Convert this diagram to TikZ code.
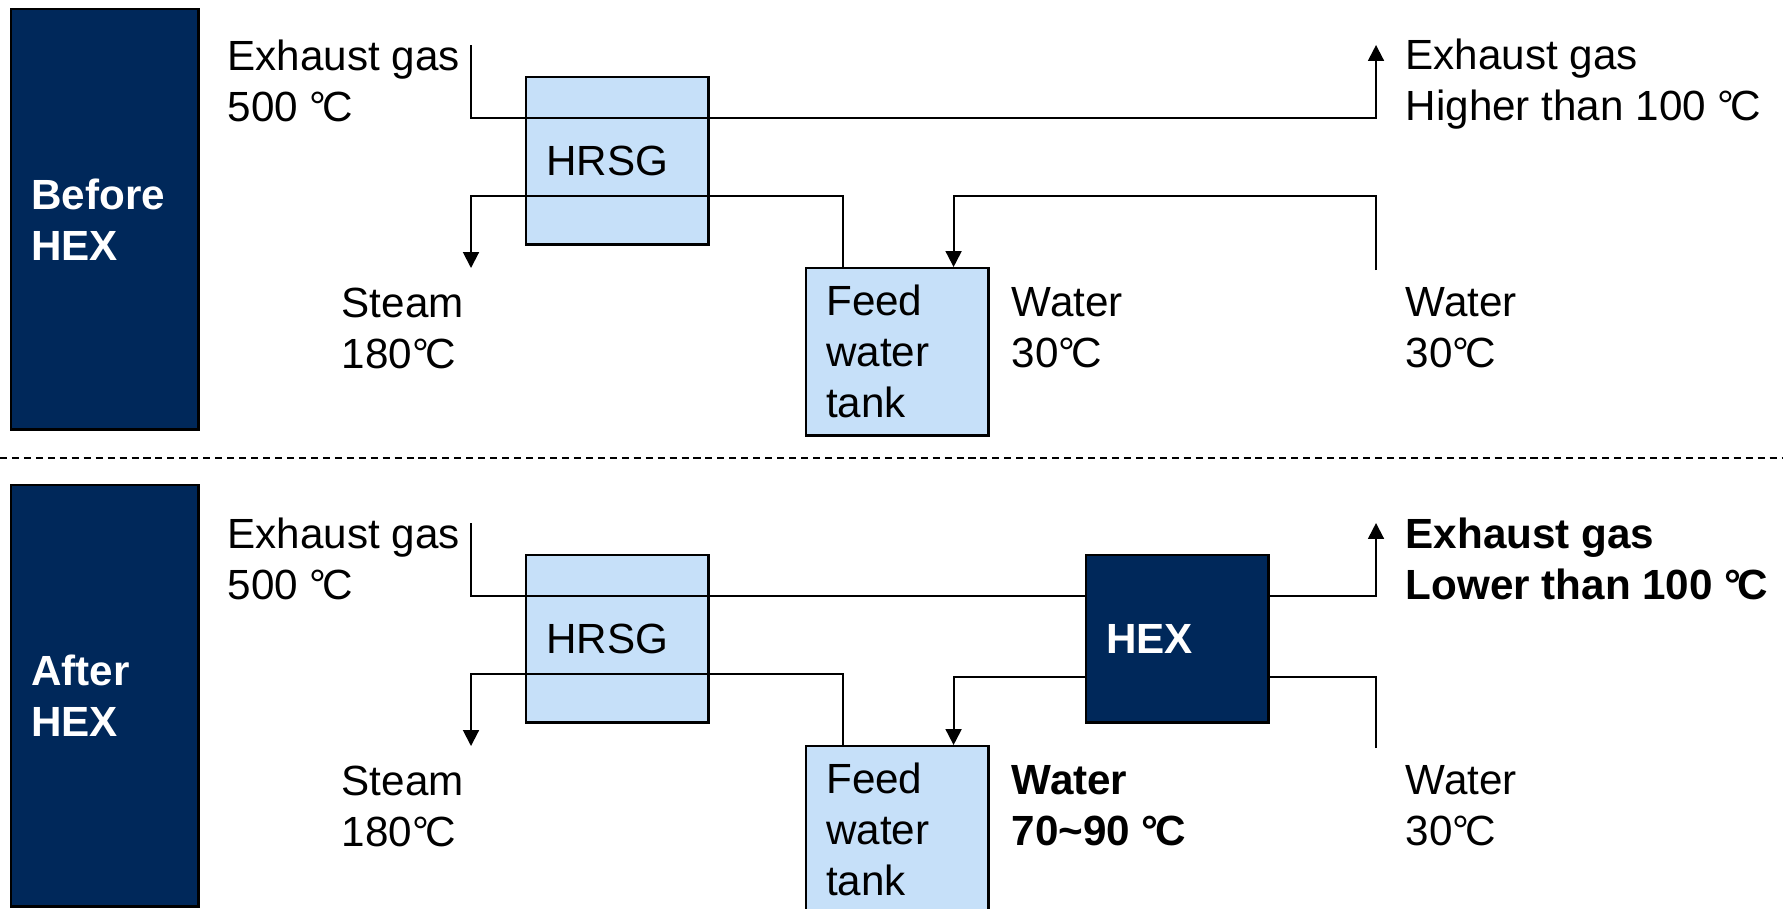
\documentclass[tikz,border=0pt]{standalone}
\usepackage{fontspec}
\setmainfont{Liberation Sans}
\usetikzlibrary{calc,arrows.meta,positioning}
\definecolor{hexNavy}{RGB}{0,40,90}
\definecolor{unitBlue}{RGB}{198,224,249}
\newcommand{\labfont}{\fontsize{12}{14.5}\selectfont}
\newcommand{\degc}{°\kern-0.09em C}

\tikzset{
  pipe/.style={black, line width=0.55pt},
  flow/.style={pipe, -{Triangle[length=4.5pt,width=4.5pt]}},
  unit/.style={draw=black, line width=0.7pt, fill=unitBlue, font=\labfont,
    minimum width=1.82cm, minimum height=1.67cm, text width=1.42cm,
    inner xsep=0.2cm, align=left, anchor=north west},
  hexunit/.style={unit, fill=hexNavy, text=white, font=\labfont\bfseries},
  stage/.style={draw=black, line width=0.7pt, fill=hexNavy, text=white,
    font=\labfont\bfseries, minimum width=1.87cm, minimum height=4.2cm,
    text width=1.47cm, inner xsep=0.19cm, align=left, anchor=north west},
  tag/.style={anchor=west, align=left, inner sep=0pt, font=\labfont},
  boldtag/.style={tag, font=\labfont\bfseries},
}

\begin{document}
\begin{tikzpicture}[x=0.01cm,y=-0.01cm]
    \useasboundingbox (0,0) rectangle (1783,908);

    % before / after panels
    \node[stage] (before) at (10,8) {Before\\HEX};
    \node[stage, minimum height=4.21cm] (after) at (10,484) {After\\HEX};
    \draw[pipe, dash pattern=on 2pt off 1.4pt] (0,458) -- (1783,458);

    % ---- before HEX ----
    \node[unit] (hrsg1) at (525,76) {HRSG};
    \node[unit] (tank1) at (805,267) {Feed\\water\\tank};

    \coordinate (gasin1) at (471,45);
    \coordinate (gasout1) at (1376,45);
    \coordinate (steam1) at (471,268);
    \coordinate (wat1) at (1376,270);

    \draw[flow] (gasin1) -- ++(0,73) -| (gasout1);
    \draw[flow] ($(tank1.north west)+(38,0)$) -- ++(0,-71) -| (steam1);
    \draw[flow] (wat1) -- ++(0,-74) -| ($(tank1.north east)+(-36,0)$);

    \node[tag] (gasin1t) at (227,81) {Exhaust gas\\500 \degc};
    \node[tag] (gasout1t) at (1405,84) {Exhaust gas\\Higher than 100 \degc};
    \node[tag] (steam1t) at (341,328) {Steam\\180\degc};
    \node[tag] (feed1t) at (1011,328) {Water\\30\degc};
    \node[tag] (wat1t) at (1405,328) {Water\\30\degc};

    % ---- after HEX ----
    \node[unit] (hrsg2) at (525,554) {HRSG};
    \node[unit] (tank2) at (805,745) {Feed\\water\\tank};
    \node[hexunit, minimum width=1.81cm] (hex2) at (1085,554) {HEX};

    \coordinate (gasin2) at (471,523);
    \coordinate (gasout2) at (1376,523);
    \coordinate (steam2) at (471,746);
    \coordinate (wat2) at (1376,748);

    \draw[pipe] (gasin2) |- ($(hex2.north west)+(0,42)$);
    \draw[flow] ($(hex2.north east)+(0,42)$) -| (gasout2);
    \draw[flow] ($(tank2.north west)+(38,0)$) -- ++(0,-71) -| (steam2);
    \draw[pipe] (wat2) |- ($(hex2.south east)+(0,-47)$);
    \draw[flow] ($(hex2.south west)+(0,-47)$) -| ($(tank2.north east)+(-36,0)$);

    \node[tag] (gasin2t) at (227,559) {Exhaust gas\\500 \degc};
    \node[boldtag] (gasout2t) at (1405,559) {Exhaust gas\\Lower than 100 \degc};
    \node[tag] (steam2t) at (341,806) {Steam\\180\degc};
    \node[boldtag] (feed2t) at (1011,806) {Water\\70\textasciitilde 90 \degc};
    \node[tag] (wat2t) at (1405,806) {Water\\30\degc};
\end{tikzpicture}
\end{document}
